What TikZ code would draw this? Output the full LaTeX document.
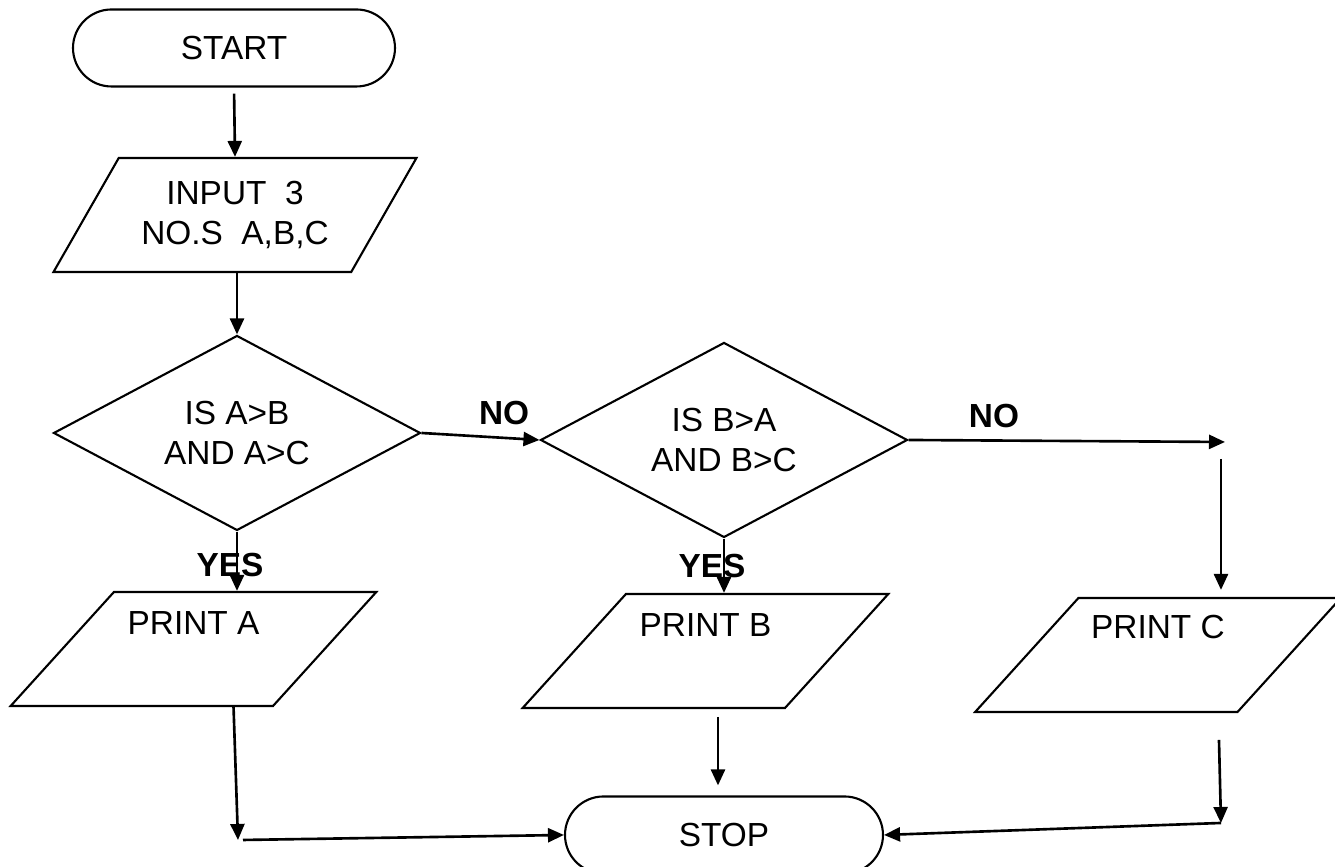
\documentclass[tikz,border=0pt]{standalone}
\usepackage{fontspec}
\setmainfont{Liberation Sans}
\usetikzlibrary{shapes.geometric,arrows.meta}
\tikzset{
  term/.style={draw, rounded corners=0.385cm, minimum width=3.22cm, minimum height=0.77cm},
  io/.style={draw, trapezium, trapezium left angle=57, trapezium right angle=123,
    trapezium stretches=true, minimum width=3.66cm, minimum height=1.14cm, align=center},
  decide/.style={draw, diamond, shape aspect=2, inner sep=0pt,
    minimum width=3.67cm, minimum height=1.95cm, align=center},
  arr/.style={-{Triangle[length=0.16cm,width=0.14cm]}, line width=0.75pt},
}
\begin{document}
\begin{tikzpicture}[line width=0.6pt, font=\fontsize{9.5}{11.4}\selectfont]
\useasboundingbox (0,0) rectangle (13.35,8.67);
\node[term] (start) at (2.34, 8.19) {START};
\node[io] (input) at (2.35, 6.52) {INPUT~~3\\NO.S~~A,B,C};
\node[decide] (isa) at (2.37, 4.34) {IS A>B\\AND A>C};
\node[decide] (isb) at (7.24, 4.27) {IS B>A\\AND B>C};
\node[io] (printa) at (1.935, 2.18) {};
\node[io] (printb) at (7.055, 2.16) {};
\node[io] (printc) at (11.58, 2.12) {};
\node (txta) at ([yshift=-0.32cm]printa.north) {PRINT A};
\node (txtb) at ([yshift=-0.32cm]printb.north) {PRINT B};
\node (txtc) at ([yshift=-0.30cm]printc.north) {PRINT C};
\node[term, minimum width=3.18cm] (stop) at (7.24, 0.32) {STOP};
% turning points
\coordinate (nob) at (12.25, 4.25);
\coordinate (ctop) at (12.21, 4.08);
\coordinate (abot) at (2.335, 1.61);
\coordinate (ca) at (2.38, 0.27);
\coordinate (bmid) at (7.18, 1.50);
\coordinate (cbot) at (12.19, 1.27);
\coordinate (cc) at (12.21, 0.44);
\draw[arr, shorten <=0.06cm] (start.south) -- (input.north);
\draw[arr] (isa.north |- input.south) -- (isa.north);
\draw[arr] (isa.east) -- node[above, pos=0.7] (no1) {\textbf{NO}} (isb.west);
\draw[arr] (isb.east) -- node[above, pos=0.27] (no2) {\textbf{NO}} (nob);
\draw[arr, shorten >=0.07cm] (ctop) -- (ctop |- printc.north);
\draw[arr] (isa.south) -- node[pos=0.56, xshift=-0.07cm] (yes1) {\textbf{YES}} (isa.south |- printa.north);
\draw[arr] (isb.south) -- node[pos=0.5, xshift=-0.12cm] (yes2) {\textbf{YES}} (isb.south |- printb.north);
\draw[arr] (abot) -- (ca);
\draw[arr] ([xshift=0.05cm]ca) -- (stop.west);
\draw[arr, shorten >=0.1cm] (bmid) -- (bmid |- stop.north);
\draw[arr] (cbot) -- (cc);
\draw[arr] (cc) -- (stop.east);
\end{tikzpicture}
\end{document}
